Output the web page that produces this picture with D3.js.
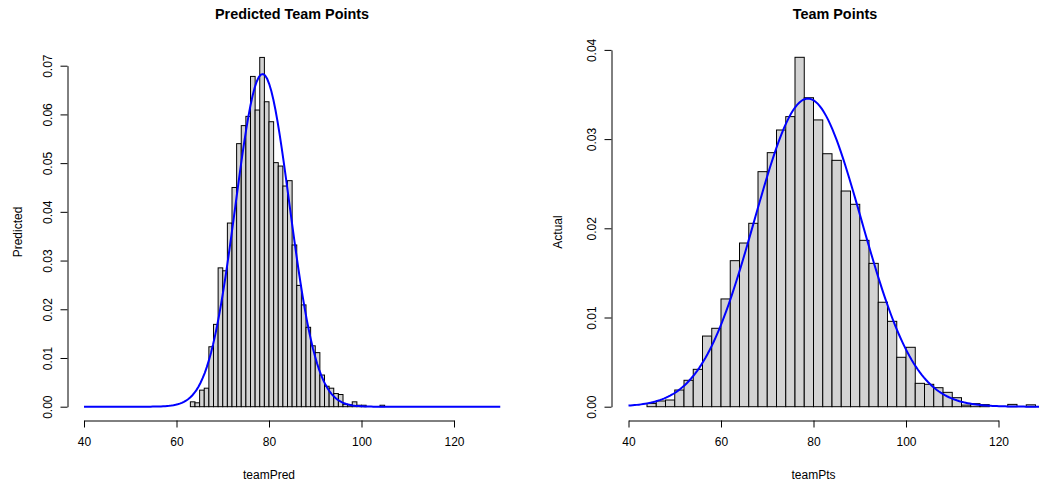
<!DOCTYPE html>
<html>
<head>
<meta charset="utf-8">
<script src="https://cdn.jsdelivr.net/npm/d3@7"></script>
<style>
  html, body { margin: 0; padding: 0; background: #fff; }
  svg { display: block; font-family: "Liberation Sans", Arial, Helvetica, sans-serif; }
</style>
</head>
<body>
<svg id="chart" width="1039" height="487"></svg>
<script>
// Predicted points: histogram with 1-point bins starting at 63 (density scale)
const predStart = 63;
const predBinWidth = 1;
const predDensity = [
  0.0010, 0.0008, 0.0034, 0.0038, 0.0123, 0.0169, 0.0285, 0.0279, 0.0377, 0.0450,
  0.0540, 0.0577, 0.0596, 0.0678, 0.0609, 0.0717, 0.0626, 0.0585, 0.0501, 0.0494,
  0.0453, 0.0464, 0.0332, 0.0249, 0.0209, 0.0163, 0.0125, 0.0111, 0.0065, 0.0042,
  0.0038, 0.0027, 0.0025, 0.0005, 0.0004, 0.0010, 0.0003, 0.0003, 0.0000, 0.0000,
  0.0000, 0.0003
];
const predMean = 78.6;
const predSd = 5.84;

// Actual points: histogram with 2-point bins starting at 44 (density scale)
const ptsStart = 44;
const ptsBinWidth = 2;
const ptsDensity = [
  0.00037, 0.00064, 0.00075, 0.00187, 0.00296, 0.00419, 0.00792, 0.00879, 0.01208, 0.01637,
  0.01835, 0.02056, 0.02635, 0.02848, 0.03102, 0.03252, 0.03917, 0.03464, 0.03215, 0.02836,
  0.02762, 0.02418, 0.02269, 0.01865, 0.01607, 0.01171, 0.00957, 0.00554, 0.00666, 0.00262,
  0.00251, 0.00213, 0.00161, 0.00101, 0.00018, 0.00034, 0.00023, 0.00000, 0.00000, 0.00026,
  0.00000, 0.00021
];
const ptsMean = 78.8;
const ptsSd = 11.55;

const xTicks = [40, 60, 80, 100, 120];
const predYTicks = [0, 0.01, 0.02, 0.03, 0.04, 0.05, 0.06, 0.07];
const ptsYTicks = [0, 0.01, 0.02, 0.03, 0.04];
const curveDomain = [40, 130];

const svg = d3.select("#chart");

function dnorm(x, m, s) {
  return Math.exp(-0.5 * ((x - m) / s) ** 2) / (s * Math.sqrt(2 * Math.PI));
}

function panel(cfg) {
  const g = svg.append("g");
  const x = d3.scaleLinear().domain([40, 120]).range(cfg.xRange);
  const y = d3.scaleLinear().domain([0, cfg.yMax]).range([406.7, cfg.yTopPx]);

  // bars
  const bins = cfg.density.map((d, i) => ({
    x0: cfg.start + i * cfg.width,
    x1: cfg.start + (i + 1) * cfg.width,
    d: d
  }));
  g.append("g").selectAll("rect").data(bins).join("rect")
    .attr("x", b => x(b.x0))
    .attr("width", b => x(b.x1) - x(b.x0))
    .attr("y", b => y(b.d))
    .attr("height", b => y(0) - y(b.d))
    .attr("fill", "#d3d3d3")
    .attr("stroke", "#000")
    .attr("stroke-width", 1);

  // fitted normal density
  const pts = d3.range(0, 201).map(i => {
    const xv = curveDomain[0] + (curveDomain[1] - curveDomain[0]) * i / 200;
    return [xv, dnorm(xv, cfg.mean, cfg.sd)];
  });
  g.append("path")
    .attr("d", d3.line().x(p => x(p[0])).y(p => y(p[1]))(pts))
    .attr("fill", "none")
    .attr("stroke", "#0000ff")
    .attr("stroke-width", 2);

  // x axis
  const xa = g.append("g")
    .attr("transform", "translate(0,420.5)")
    .call(d3.axisBottom(x).tickValues(xTicks).tickSize(7).tickSizeOuter(0).tickPadding(10));
  xa.selectAll("path, line").attr("stroke", "#000");
  xa.selectAll("text").attr("font-size", 12).attr("font-family", null).attr("fill", "#000");

  // y axis with rotated labels
  const ya = g.append("g")
    .attr("transform", `translate(${cfg.yAxisX},0)`)
    .call(d3.axisLeft(y).tickValues(cfg.yTicks).tickSize(7).tickSizeOuter(0)
      .tickFormat(d3.format(".2f")));
  ya.selectAll("path, line").attr("stroke", "#000");
  ya.selectAll("text")
    .attr("font-size", 12).attr("font-family", null).attr("fill", "#000")
    .attr("x", 0).attr("y", -16).attr("dy", null)
    .attr("text-anchor", "middle")
    .attr("transform", "rotate(-90)");

  // titles
  const cx = (cfg.xRange[0] + cfg.xRange[1]) / 2;
  g.append("text")
    .attr("x", cfg.titleX).attr("y", 19)
    .attr("text-anchor", "middle")
    .attr("font-size", 14.4).attr("font-weight", "bold")
    .text(cfg.title);
  g.append("text")
    .attr("x", cx).attr("y", 479)
    .attr("text-anchor", "middle")
    .attr("font-size", 12)
    .text(cfg.xLabel);
  g.append("text")
    .attr("transform", `translate(${cfg.yLabelX},232) rotate(-90)`)
    .attr("text-anchor", "middle")
    .attr("font-size", 12)
    .text(cfg.yLabel);
}

panel({
  start: predStart, width: predBinWidth, density: predDensity,
  mean: predMean, sd: predSd,
  xRange: [84, 454], yMax: 0.07, yTopPx: 65.7, yTicks: predYTicks, yAxisX: 67.5,
  title: "Predicted Team Points", titleX: 292, xLabel: "teamPred",
  yLabel: "Predicted", yLabelX: 22
});

panel({
  start: ptsStart, width: ptsBinWidth, density: ptsDensity,
  mean: ptsMean, sd: ptsSd,
  xRange: [628.5, 998.5], yMax: 0.04, yTopPx: 49.9, yTicks: ptsYTicks, yAxisX: 611.5,
  title: "Team Points", titleX: 835, xLabel: "teamPts",
  yLabel: "Actual", yLabelX: 562
});
</script>
</body>
</html>
